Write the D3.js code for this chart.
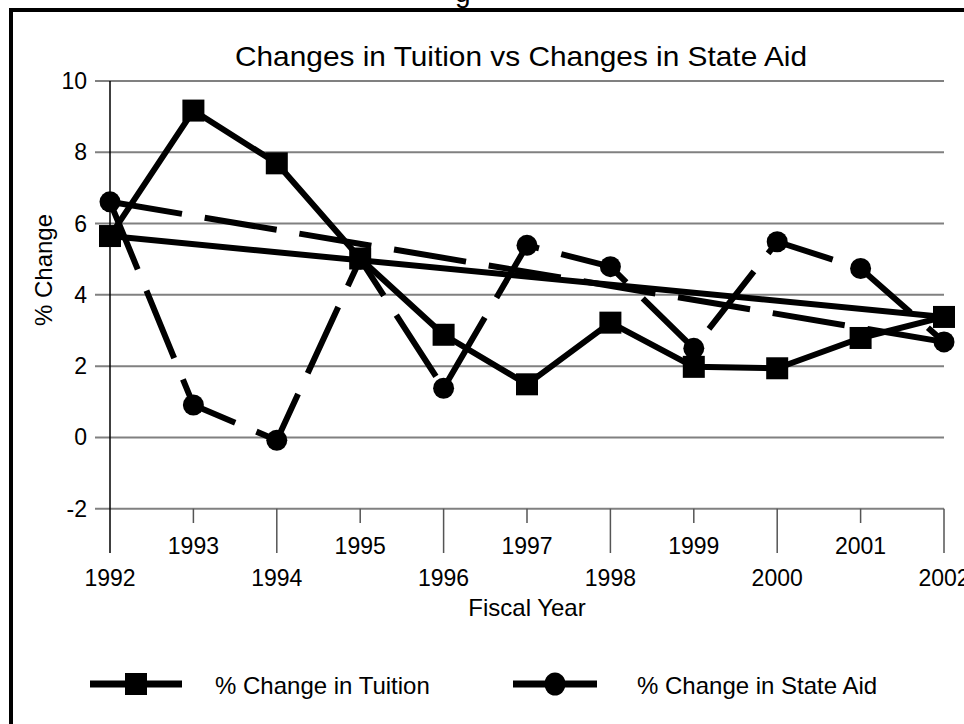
<!DOCTYPE html>
<html>
<head>
<meta charset="utf-8">
<script src="https://cdn.jsdelivr.net/npm/d3@7/dist/d3.min.js"></script>
<style>
  html, body { margin: 0; padding: 0; background: #fff; }
  svg { display: block; font-family: "Liberation Sans", Arial, sans-serif; }
</style>
</head>
<body>
<svg id="chart" width="964" height="724"></svg>
<script>
// ---- data ----
const years = [1992, 1993, 1994, 1995, 1996, 1997, 1998, 1999, 2000, 2001, 2002];
const tuition = [5.65, 9.17, 7.69, 5.02, 2.88, 1.49, 3.22, 1.98, 1.94, 2.79, 3.38];
const stateAid = [6.61, 0.91, -0.08, 5.0, 1.38, 5.39, 4.79, 2.5, 5.49, 4.74, 2.68];
const yTicks = [-2, 0, 2, 4, 6, 8, 10];
const seriesNames = ["% Change in Tuition", "% Change in State Aid"];
const titleText = "Changes in Tuition vs Changes in State Aid";
const xTitle = "Fiscal Year";
const yTitle = "% Change";

// trend lines connect first and last point of each series
const tuitionTrend = [[years[0], tuition[0]], [years[years.length - 1], tuition[tuition.length - 1]]];
const aidTrend = [[years[0], stateAid[0]], [years[years.length - 1], stateAid[stateAid.length - 1]]];

const svg = d3.select("#chart");

const x = d3.scaleLinear().domain([1992, 2002]).range([110, 944]);
const y = d3.scaleLinear().domain([-2, 10]).range([508.7, 81]);

// outer frame
svg.append("rect").attr("x", 11).attr("y", 10).attr("width", 990).attr("height", 760)
  .attr("fill", "none").attr("stroke", "#000").attr("stroke-width", 4);

// clipped header text above the frame
svg.append("text").attr("x", 455).attr("y", 2).attr("font-size", 28).text("g");

// title
svg.append("text").attr("x", 521).attr("y", 66).attr("text-anchor", "middle")
  .attr("font-size", 28).attr("textLength", 572).attr("lengthAdjust", "spacingAndGlyphs")
  .text(titleText);

// horizontal gridlines
svg.append("g").selectAll("line").data(yTicks).join("line")
  .attr("x1", 95).attr("x2", x(2002))
  .attr("y1", d => y(d)).attr("y2", d => y(d))
  .attr("stroke", "#808080").attr("stroke-width", 2);

// y tick labels
svg.append("g").selectAll("text").data(yTicks).join("text")
  .attr("x", 87).attr("y", d => y(d)).attr("dy", "0.35em")
  .attr("text-anchor", "end").attr("font-size", 23)
  .text(d => d);

// y axis line
svg.append("line").attr("x1", x(1992)).attr("x2", x(1992))
  .attr("y1", y(10)).attr("y2", 553).attr("stroke", "#000").attr("stroke-width", 1.5);

// x ticks (alternating long/short)
svg.append("g").selectAll("line").data(years.slice(1)).join("line")
  .attr("x1", d => x(d)).attr("x2", d => x(d))
  .attr("y1", y(-2)).attr("y2", d => (d % 2 === 0 ? 553 : 523))
  .attr("stroke", "#555").attr("stroke-width", 1.5);

// x tick labels (staggered)
svg.append("g").selectAll("text").data(years).join("text")
  .attr("x", d => x(d)).attr("y", d => (d % 2 === 0 ? 586 : 554))
  .attr("text-anchor", "middle").attr("font-size", 23)
  .text(d => d);

// axis titles
svg.append("text").attr("x", 527).attr("y", 616).attr("text-anchor", "middle")
  .attr("font-size", 24).text(xTitle);
svg.append("text").attr("transform", "translate(52,270) rotate(-90)")
  .attr("text-anchor", "middle").attr("font-size", 24).text(yTitle);

const line = d3.line().x(d => x(d[0])).y(d => y(d[1]));
const tuitionPts = years.map((yr, i) => [yr, tuition[i]]);
const aidPts = years.map((yr, i) => [yr, stateAid[i]]);

// trend lines
svg.append("path").datum(tuitionTrend).attr("d", line)
  .attr("fill", "none").attr("stroke", "#000").attr("stroke-width", 6);
svg.append("path").datum(aidTrend).attr("d", line)
  .attr("fill", "none").attr("stroke", "#000").attr("stroke-width", 6)
  .attr("stroke-dasharray", "73,23");

// series lines
svg.append("path").datum(tuitionPts).attr("d", line)
  .attr("fill", "none").attr("stroke", "#000").attr("stroke-width", 6)
  .attr("stroke-linejoin", "round");
svg.append("path").datum(aidPts).attr("d", line)
  .attr("fill", "none").attr("stroke", "#000").attr("stroke-width", 6)
  .attr("stroke-dasharray", "73,23").attr("stroke-linejoin", "round");

// markers
svg.append("g").selectAll("circle").data(aidPts).join("circle")
  .attr("cx", d => x(d[0])).attr("cy", d => y(d[1])).attr("r", 10.5).attr("fill", "#000");
svg.append("g").selectAll("rect").data(tuitionPts).join("rect")
  .attr("x", d => x(d[0]) - 11).attr("y", d => y(d[1]) - 11)
  .attr("width", 22).attr("height", 22).attr("fill", "#000");

// legend
const lg = svg.append("g");
const legendItems = [
  { name: seriesNames[0], x1: 90, x2: 182, tx: 215, shape: "square" },
  { name: seriesNames[1], x1: 513, x2: 597, tx: 637, shape: "circle" }
];
const ly = 684;
legendItems.forEach(it => {
  lg.append("line").attr("x1", it.x1).attr("x2", it.x2).attr("y1", ly).attr("y2", ly)
    .attr("stroke", "#000").attr("stroke-width", 7);
  const cx = (it.x1 + it.x2) / 2;
  if (it.shape === "square") {
    lg.append("rect").attr("x", cx - 11).attr("y", ly - 11).attr("width", 22).attr("height", 22).attr("fill", "#000");
  } else {
    lg.append("ellipse").attr("cx", cx).attr("cy", ly).attr("rx", 10.5).attr("ry", 11.5).attr("fill", "#000");
  }
  lg.append("text").attr("x", it.tx).attr("y", ly + 10).attr("font-size", 24).text(it.name);
});
</script>
</body>
</html>
